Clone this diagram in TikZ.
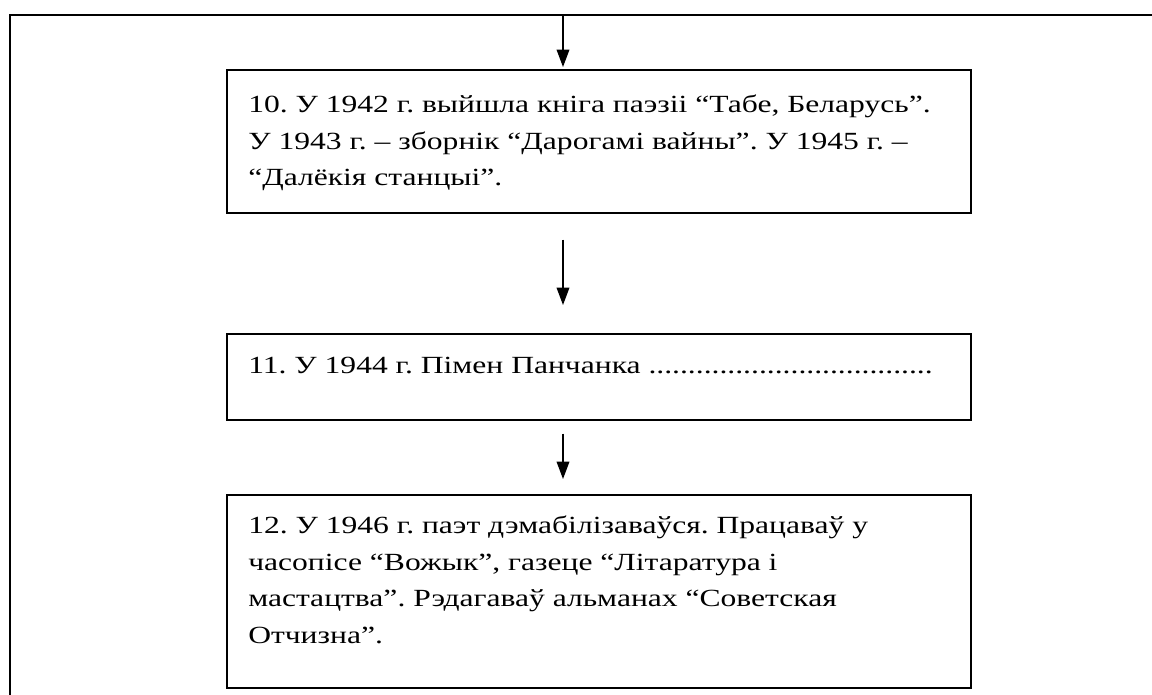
\documentclass[tikz,border=0pt]{standalone}
\usepackage{fontspec}
\setmainfont{Liberation Serif}[FakeStretch=1.28]
\usetikzlibrary{arrows.meta}

\tikzset{
  stagebox/.style={draw, line width=1.3pt, minimum width=558pt, inner sep=0pt, anchor=north west},
  stagetext/.style={anchor=north west, inner sep=0pt, align=left, font=\fontsize{18.5}{27.4}\selectfont},
  downarrow/.style={line width=1pt, -{Triangle[length=13pt,width=9.5pt]}},
}

\begin{document}
\frenchspacing
\begin{tikzpicture}[x=0.75pt,y=0.75pt,yscale=-1,xscale=1]
\useasboundingbox (0,0) rectangle (1152,695);

%Outer frame (left and top side only)
\draw [line width=1.5pt] (10,700) -- (10,15) -- (1160,15) ;

%Shape: Rectangle [box 10]
\node (box10) [stagebox, minimum height=107.25pt] at (226,69) {};
%Shape: Rectangle [box 11]
\node (box11) [stagebox, minimum height=64.5pt] at (226,333) {};
%Shape: Rectangle [box 12]
\node (box12) [stagebox, minimum height=144.75pt] at (226,494) {};

%Arrows
\coordinate (frametop) at (563,15);
\draw [downarrow, shorten >=1.5pt] (frametop) -- (box10.north -| frametop) ;
\draw [downarrow, shorten <=19.5pt, shorten >=21pt] (box10.south -| frametop) -- (box11.north -| frametop) ;
\draw [downarrow, shorten <=9.75pt, shorten >=11.25pt] (box11.south -| frametop) -- (box12.north -| frametop) ;

% Text Node
\node (txt10) [stagetext] at (248,95) {10. У 1942 г. выйшла кніга паэзіі “Табе, Беларусь”.\\У 1943 г. – зборнік “Дарогамі вайны”. У 1945 г. –\\“Далёкія станцыі”.};
% Text Node
\node (txt11) [stagetext] at (248,357) {11. У 1944 г. Пімен Панчанка ....................................};
% Text Node
\node (txt12) [stagetext] at (248,516) {12. У 1946 г. паэт дэмабілізаваўся. Працаваў у\\часопісе “Вожык”, газеце “Літаратура і\\мастацтва”. Рэдагаваў альманах “Советская\\Отчизна”.};

\end{tikzpicture}
\end{document}
